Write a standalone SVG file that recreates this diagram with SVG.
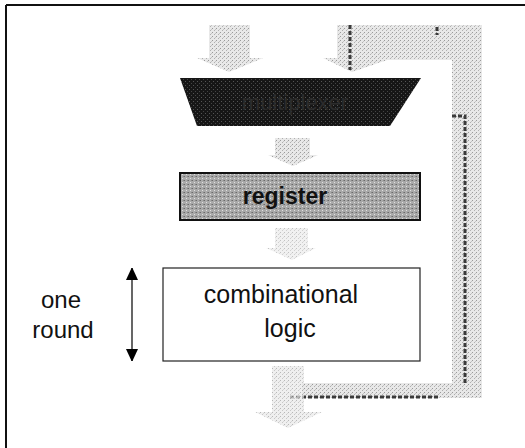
<svg xmlns="http://www.w3.org/2000/svg" width="525" height="448" viewBox="0 0 525 448">
  <defs>
    <!-- fine stipple used for the shaded data-path bands -->
    <pattern id="stipple" width="4" height="4" patternUnits="userSpaceOnUse">
      <rect width="4" height="4" fill="#e8e8e8"/>
      <rect x="0" y="0" width="1" height="1" fill="#9a9a9a"/>
      <rect x="2" y="2" width="1" height="1" fill="#b0b0b0"/>
      <rect x="3" y="1" width="1" height="1" fill="#c4c4c4"/>
    </pattern>
    <pattern id="stippleDark" width="4" height="4" patternUnits="userSpaceOnUse">
      <rect width="4" height="4" fill="#161616"/>
      <rect x="1" y="1" width="1" height="1" fill="#555"/>
      <rect x="3" y="3" width="1" height="1" fill="#444"/>
    </pattern>
    <pattern id="stippleMid" width="4" height="4" patternUnits="userSpaceOnUse">
      <rect width="4" height="4" fill="#a9a9a9"/>
      <rect x="0" y="0" width="1" height="1" fill="#6a6a6a"/>
      <rect x="2" y="2" width="1" height="1" fill="#e0e0e0"/>
      <rect x="3" y="0" width="1" height="1" fill="#888"/>
    </pattern>
    <marker id="tri" markerWidth="12" markerHeight="12" refX="12" refY="6" orient="auto-start-reverse" markerUnits="userSpaceOnUse">
      <path d="M0,0 L13,6 L0,12 Z" fill="#000"/>
    </marker>
  </defs>
  <style>
    .label { font-family: "Liberation Sans", Arial, sans-serif; fill: #111; }
    .band { fill: url(#stipple); }
    .wire { stroke: #3a3a3a; stroke-width: 3; stroke-dasharray: 4 2; fill: none; }
  </style>

  <rect width="525" height="448" fill="#fff"/>

  <!-- outer frame -->
  <g id="frame" stroke="#111" fill="none">
    <line x1="6" y1="5" x2="525" y2="5" stroke-width="2"/>
    <line x1="6" y1="5" x2="6" y2="448" stroke-width="2"/>
  </g>

  <g id="connectors">
    <!-- left input into the multiplexer -->
    <path class="band" d="M209,25 H250 V58 H263 L229,72 L197,58 H209 Z"/>
    <!-- feedback loop: output back to the right multiplexer input -->
    <path class="band" d="M302,383 H452 V60 H380 V58 H393 L352,72 L323,58 H337 V25 H482 V398 H302 Z"/>
    <path class="wire" d="M350,25 V70"/>
    <path class="wire" d="M437,27 V35"/>
    <path class="wire" d="M452,116 H465 V385"/>
    <path class="wire" d="M290,397 H440"/>
    <!-- multiplexer to register -->
    <path class="band" d="M275,138 H310 V155 H318 L293,166 L268,155 H275 Z"/>
    <!-- register to combinational logic -->
    <path class="band" d="M275,228 H308 V248 H316 L292,260 L266,248 H275 Z" opacity="0.6"/>
    <!-- output of combinational logic -->
    <path class="band" d="M272,366 H304 V412 H322 L288,428 L255,412 H272 Z" opacity="0.7"/>
    <!-- extent of one round -->
    <line x1="132" y1="268" x2="132" y2="361" stroke="#000" stroke-width="1.2" marker-start="url(#tri)" marker-end="url(#tri)"/>
  </g>

  <g id="multiplexer">
    <path d="M180,78 H421 L390,126 H197 Z" fill="url(#stippleDark)"/>
    <text class="label" x="295" y="110" font-size="22" text-anchor="middle" style="fill:#2c2c2c">multiplexer</text>
  </g>

  <g id="register">
    <rect x="180" y="173" width="240" height="47" fill="url(#stippleMid)" stroke="#111" stroke-width="2"/>
    <text class="label" x="285" y="204" font-size="23" font-weight="bold" text-anchor="middle">register</text>
  </g>

  <g id="combinational-logic">
    <rect x="163" y="268" width="257" height="93" fill="#fff" stroke="#222" stroke-width="1.2"/>
    <text class="label" x="281" y="303" font-size="25" text-anchor="middle">combinational</text>
    <text class="label" x="290" y="337" font-size="25" text-anchor="middle">logic</text>
  </g>

  <g id="one-round">
    <text class="label" x="61" y="308" font-size="24" text-anchor="middle">one</text>
    <text class="label" x="63" y="338" font-size="24" text-anchor="middle">round</text>
  </g>
</svg>
